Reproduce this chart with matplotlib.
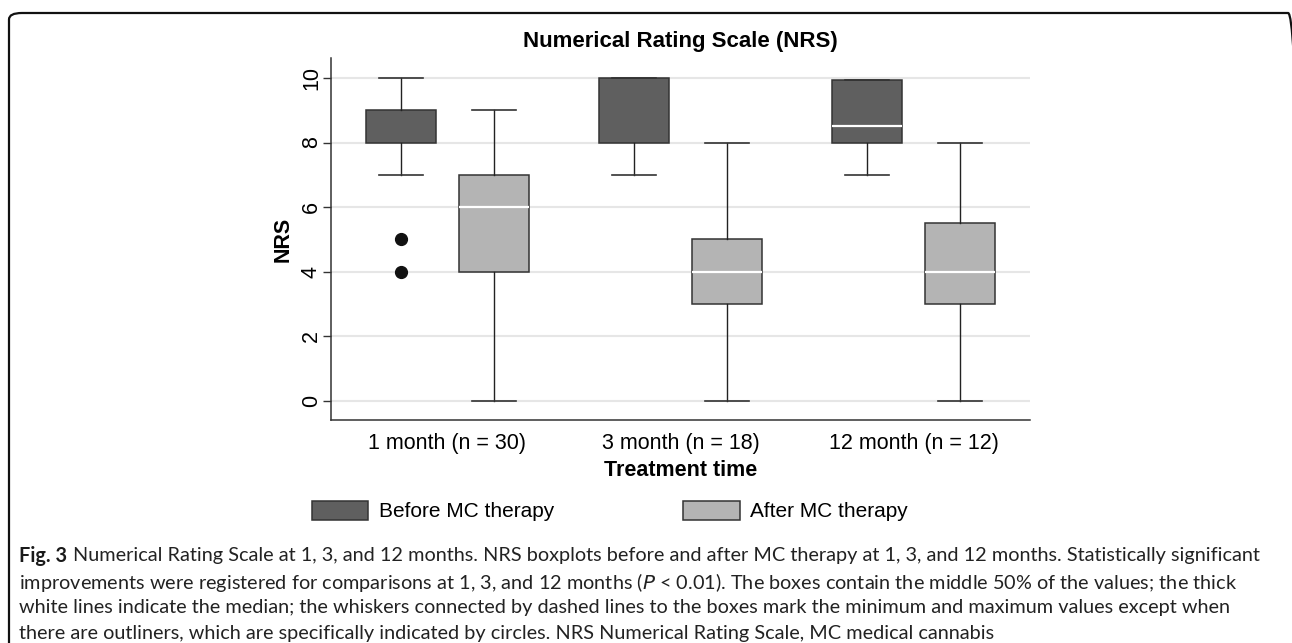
import matplotlib.pyplot as plt
from matplotlib.patches import Patch, FancyBboxPatch

# Данные
periods = ["1 month (n = 30)", "3 month (n = 18)", "12 month (n = 12)"]

before_min = [7, 7, 7]
before_q1 = [8, 8, 8]
before_med = [8, 10, 8.5]
before_q3 = [9, 10, 9.95]
before_max = [10, 10, 9.95]
before_out = [[4, 5], [], []]

after_min = [0, 0, 0]
after_q1 = [4, 3, 3]
after_med = [6, 4, 4]
after_q3 = [7, 5, 5.5]
after_max = [9, 8, 8]
after_out = [[], [], []]

legend_labels = ["Before MC therapy", "After MC therapy"]
colors = ["#5f5f5f", "#b4b4b4"]

caption = [
    "Numerical Rating Scale at 1, 3, and 12 months. NRS boxplots before and after MC therapy at 1, 3, and 12 months. Statistically significant",
    "improvements were registered for comparisons at 1, 3, and 12 months ($\\it{P}$ < 0.01). The boxes contain the middle 50% of the values; the thick",
    "white lines indicate the median; the whiskers connected by dashed lines to the boxes mark the minimum and maximum values except when",
    "there are outliners, which are specifically indicated by circles. NRS Numerical Rating Scale, MC medical cannabis",
]


def make_stats(lo, q1, med, q3, hi, out):
    return [dict(whislo=a, q1=b, med=c, q3=d, whishi=e, fliers=f)
            for a, b, c, d, e, f in zip(lo, q1, med, q3, hi, out)]


plt.rcParams['font.family'] = ['Liberation Sans', 'DejaVu Sans']

fig = plt.figure(figsize=(12.92, 6.43), dpi=100)
ax = fig.add_axes([331 / 1292, 1 - 420 / 643, (1030 - 331) / 1292, (420 - 58) / 643])

groups = [
    make_stats(before_min, before_q1, before_med, before_q3, before_max, before_out),
    make_stats(after_min, after_q1, after_med, after_q3, after_max, after_out),
]
offsets = [-0.2, 0.2]

for stats, off, col in zip(groups, offsets, colors):
    pos = [i + 1 + off for i in range(len(stats))]
    bp = ax.bxp(stats, positions=pos, widths=0.3, capwidths=0.19, patch_artist=True,
                boxprops=dict(facecolor=col, edgecolor="#333333", linewidth=1.1),
                whiskerprops=dict(color="#222222", linewidth=1.0),
                capprops=dict(color="#333333", linewidth=1.2),
                medianprops=dict(color="white", linewidth=1.6),
                flierprops=dict(marker="o", markerfacecolor="#111111", markeredgecolor="#111111",
                                markersize=8.5),
                manage_ticks=False, zorder=3)
    # медиана не видна, если совпадает с краем ящика
    for line, s in zip(bp['medians'], stats):
        line.set_visible(s['q1'] < s['med'] < s['q3'])

ax.set_xlim(0.5, 3.5)
ax.set_ylim(-0.6, 10.62)
ax.set_xticks([1, 2, 3])
ax.set_xticklabels(periods, fontsize=15.5)
ax.set_yticks(range(0, 11, 2))
ax.tick_params(axis='x', length=0, pad=9)
ax.tick_params(axis='y', length=6, width=1, color="#333333", pad=0.5, labelsize=15.5)
for lab in ax.get_yticklabels():
    lab.set_rotation(90)
    lab.set_verticalalignment('center')
ax.yaxis.grid(True, color="#e6e6e6", linewidth=1.5, zorder=0)
ax.set_axisbelow(True)
for side in ['top', 'right']:
    ax.spines[side].set_visible(False)
for side in ['left', 'bottom']:
    ax.spines[side].set_color("#333333")
    ax.spines[side].set_linewidth(1.1)

ax.set_ylabel("NRS", fontsize=15.5, fontweight='bold', labelpad=5)
ax.set_xlabel("Treatment time", fontsize=15.5, fontweight='bold', labelpad=5)
fig.text(680 / 1292, 1 - 41 / 643, "Numerical Rating Scale (NRS)", fontsize=16, fontweight='bold',
         ha='center', va='center')

handles = [Patch(facecolor=c, edgecolor="#333333", linewidth=1.1) for c in colors]
fig.legend(handles, legend_labels, loc='center', bbox_to_anchor=(610 / 1292, 1 - 511 / 643),
           ncol=2, frameon=False, fontsize=15, handlelength=2.7, handleheight=1.05,
           handletextpad=0.5, columnspacing=6.2)

# Подпись к рисунку
renderer = fig.canvas.get_renderer()
x0 = 19 / 1292
ys = [556, 582, 608, 634]
cap_size = 14.35
t = fig.text(x0, 1 - ys[0] / 643, "Fig. 3", fontsize=cap_size, fontweight='bold', family='Lato',
             color="#1a1a1a", ha='left', va='center')
w = t.get_window_extent(renderer).width
fig.text(x0 + (w + 6) / 1292, 1 - ys[0] / 643, caption[0], fontsize=cap_size, family='Lato',
         color="#222222", ha='left', va='center')
for line, y in zip(caption[1:], ys[1:]):
    fig.text(x0, 1 - y / 643, line, fontsize=cap_size, family='Lato', color="#222222",
             ha='left', va='center')

# Рамка с закруглёнными углами
frame = FancyBboxPatch((9 / 1292, -0.1), (1301 - 9) / 1292, 1 - 13 / 643 + 0.1,
                       boxstyle="round,pad=0,rounding_size=0.01",
                       transform=fig.transFigure, facecolor='none', edgecolor="#111111",
                       linewidth=1.6, clip_on=False)
fig.patches.append(frame)

fig.savefig("out.png", dpi=100)
